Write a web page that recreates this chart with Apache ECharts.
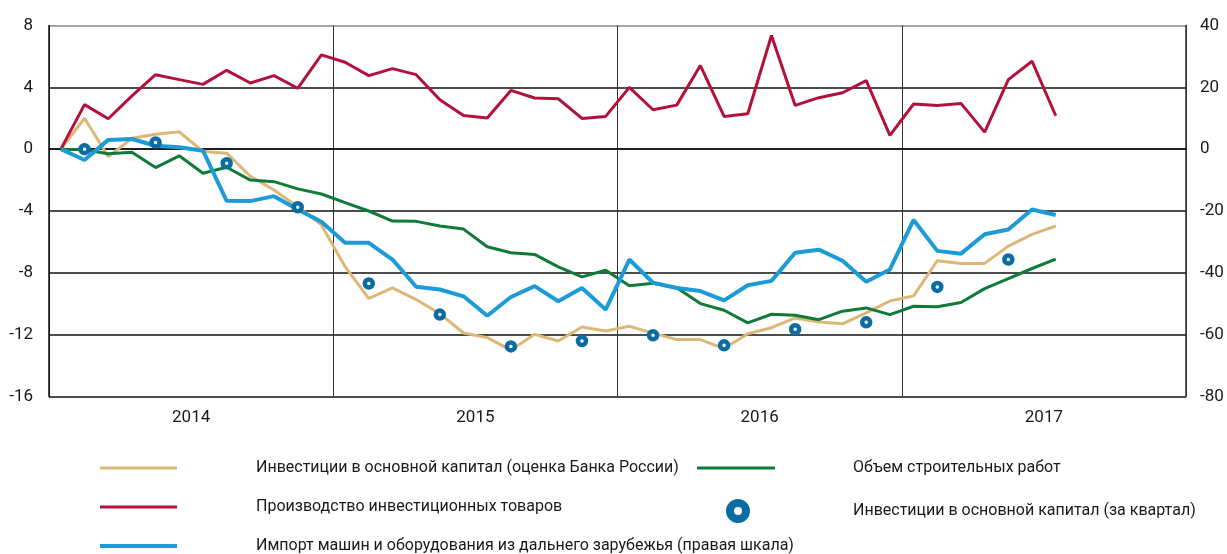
<!DOCTYPE html>
<html>
<head>
<meta charset="utf-8">
<script src="https://cdn.jsdelivr.net/npm/echarts@6/dist/echarts.min.js"></script>
<style>
    html, body { margin: 0; padding: 0; background: #fff; }
    #chart { width: 1227px; height: 554px; }
</style>
</head>
<body>
<div id="chart"></div>
<script>
// годы и месяцы (ось X)
var years = ['2014', '2015', '2016', '2017']
var months = []
for (let y = 0; y < years.length; y++) {
    for (let m = 1; m <= 12; m++) {
        months.push(years[y] + '-' + (m < 10 ? '0' + m : m))
    }
}

// левая шкала, %
var investBank = [0, 2.0, -0.48, 0.7, 0.97, 1.12, -0.15, -0.26, -1.75, -2.64, -3.72, -4.9, -7.6, -9.66, -8.97, -9.73,
    -10.64, -11.89, -12.19, -13.0, -11.98, -12.41, -11.5, -11.76, -11.46, -11.9, -12.32, -12.32, -12.9, -11.94, -11.55,
    -10.92, -11.18, -11.3, -10.59, -9.82, -9.49, -7.22, -7.39, -7.39, -6.27, -5.51, -4.97]
var production = [0, 2.88, 1.97, 3.45, 4.82, 4.5, 4.19, 5.1, 4.28, 4.76, 3.94, 6.1, 5.62, 4.76, 5.21, 4.82,
    3.2, 2.18, 2.01, 3.8, 3.31, 3.26, 1.99, 2.12, 4.0, 2.55, 2.85, 5.41, 2.12, 2.29, 7.35,
    2.83, 3.33, 3.65, 4.43, 0.89, 2.92, 2.83, 2.96, 1.1, 4.5, 5.69, 2.16]
var construction = [0, -0.04, -0.3, -0.2, -1.19, -0.43, -1.56, -1.17, -2.0, -2.1, -2.57, -2.9, -3.46, -4.0, -4.65, -4.67,
    -4.97, -5.17, -6.31, -6.7, -6.81, -7.61, -8.26, -7.83, -8.84, -8.68, -8.97, -9.99, -10.42, -11.24, -10.68,
    -10.75, -11.03, -10.48, -10.27, -10.7, -10.16, -10.2, -9.92, -9.02, -8.37, -7.72, -7.11]
// правая шкала, %
var imports = [0, -3.5, 3.0, 3.3, 1.1, 0.6, -0.5, -16.7, -16.8, -15.2, -19.5, -23.5, -30.3, -30.3, -35.7, -44.5,
    -45.4, -47.6, -53.9, -47.8, -44.3, -49.2, -44.9, -51.9, -35.7, -43.2, -44.9, -45.9, -48.9, -44.0, -42.6,
    -33.5, -32.5, -36.1, -42.9, -38.9, -22.9, -32.9, -33.8, -27.5, -26.0, -19.5, -21.3]
// за квартал (середина квартала)
var quarterMonths = ['2014-02', '2014-05', '2014-08', '2014-11', '2015-02', '2015-05', '2015-08', '2015-11',
    '2016-02', '2016-05', '2016-08', '2016-11', '2017-02', '2017-05']
var quarterly = [0, 0.43, -0.91, -3.76, -8.69, -10.7, -12.76, -12.41, -12.04, -12.69, -11.65, -11.2, -8.91, -7.14]

var names = [
    'Инвестиции в основной капитал (оценка Банка России)',
    'Производство инвестиционных товаров',
    'Импорт машин и оборудования из дальнего зарубежья (правая шкала)',
    'Объем строительных работ',
    'Инвестиции в основной капитал (за квартал)'
]

var font = "Roboto, 'Liberation Sans', sans-serif"

var dotData = []
for (let q = 0; q < quarterly.length; q++) {
    dotData.push([quarterMonths[q], quarterly[q]])
}

// одна строка легенды
function legendRow(name, left, top, w, h, pad, icon) {
    return {
        left: left, top: top, orient: 'horizontal',
        itemWidth: w, itemHeight: h, padding: 0,
        icon: icon,
        data: [name],
        textStyle: { fontFamily: font, fontSize: 16, color: '#1a1a1a', lineHeight: 20, padding: [0, 0, 0, pad] }
    }
}

var myChart = echarts.init(document.getElementById('chart'))

var option = {
    animation: false,
    textStyle: { fontFamily: font },
    grid: { left: 49, right: 41, top: 25.5, bottom: 157.5, outerBoundsMode: 'none', containLabel: false },
    legend: [
        legendRow(names[0], 100, 458, 77, 3, 74, 'rect'),
        legendRow(names[1], 100, 497, 77, 3, 74, 'rect'),
        legendRow(names[2], 100, 536, 77, 4, 74, 'rect'),
        legendRow(names[3], 697, 458, 78, 3, 73, 'rect'),
        Object.assign(legendRow(names[4], 726, 499, 16, 16, 102, 'circle'), { itemStyle: { borderWidth: 8 } })
    ],
    xAxis: [{
        type: 'category',
        data: months,
        boundaryGap: true,
        show: false
    }, {
        type: 'category',
        data: years,
        boundaryGap: true,
        position: 'bottom',
        axisLine: { show: true, lineStyle: { color: '#111', width: 1.5 } },
        axisTick: { show: false },
        axisLabel: { fontSize: 17, color: '#1a1a1a', margin: 13 },
        splitLine: { show: true, lineStyle: { color: '#333', width: 1 } }
    }],
    yAxis: [{
        type: 'value',
        min: -16, max: 8, interval: 4,
        axisLine: { show: true, lineStyle: { color: '#111', width: 1.5 } },
        axisTick: { show: false },
        axisLabel: { fontSize: 17, color: '#1a1a1a', margin: 16 },
        splitLine: { show: true, lineStyle: { color: ['#111', '#111', '#111', '#111', '#111', '#111', '#888'], width: 1.5 } }
    }, {
        type: 'value',
        min: -80, max: 40, interval: 20,
        axisLine: { show: true, lineStyle: { color: '#333', width: 1.5 } },
        axisTick: { show: false },
        axisLabel: { fontSize: 17, color: '#1a1a1a', margin: 14 },
        splitLine: { show: false }
    }],
    series: [{
        name: names[0],
        type: 'line',
        data: investBank,
        symbol: 'none',
        lineStyle: { color: '#dcb878', width: 3 },
        itemStyle: { color: '#dcb878' }
    }, {
        name: names[3],
        type: 'line',
        data: construction,
        symbol: 'none',
        lineStyle: { color: '#0f7a3a', width: 3 },
        itemStyle: { color: '#0f7a3a' }
    }, {
        name: names[1],
        type: 'line',
        data: production,
        symbol: 'none',
        lineStyle: { color: '#b3113c', width: 3 },
        itemStyle: { color: '#b3113c' }
    }, {
        name: names[2],
        type: 'line',
        yAxisIndex: 1,
        data: imports,
        symbol: 'none',
        lineStyle: { color: '#1b9bd8', width: 4 },
        itemStyle: { color: '#1b9bd8' }
    }, {
        name: names[4],
        type: 'scatter',
        data: dotData,
        symbol: 'circle',
        symbolSize: 8,
        z: 5,
        itemStyle: { color: '#fff', borderColor: '#0b6ca3', borderWidth: 4.5, opacity: 1 }
    }]
}

myChart.setOption(option)
</script>
</body>
</html>
